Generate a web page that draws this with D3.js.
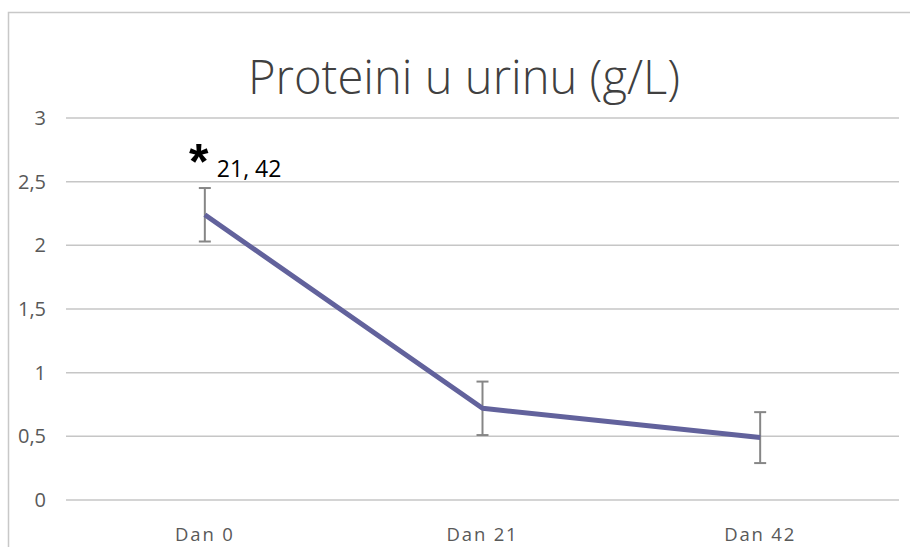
<!DOCTYPE html>
<html>
<head>
<meta charset="utf-8">
<script src="https://cdn.jsdelivr.net/npm/d3@7"></script>
<style>
  body { margin: 0; background: #fff; }
  svg { display: block; }
</style>
</head>
<body>
<div id="chart"></div>
<script>
// data
var categories = ["Dan 0", "Dan 21", "Dan 42"];
var means = [2.24, 0.72, 0.49];
var errors = [0.21, 0.21, 0.2];
var yTicks = [0, 0.5, 1, 1.5, 2, 2.5, 3];
var title = "Proteini u urinu (g/L)";
var note = ["*", "21, 42"];

var width = 910, height = 547;
var margin = {top: 118, right: 11, bottom: 47, left: 66};

var svg = d3.select("#chart").append("svg")
    .attr("width", width)
    .attr("height", height);

// chart border (runs off the right and bottom edge)
svg.append("rect")
    .attr("x", 8.5).attr("y", 12.5)
    .attr("width", 920).attr("height", 560)
    .attr("fill", "none")
    .attr("stroke", "#c8c8c8")
    .attr("stroke-width", 1.5);

var x = d3.scaleBand()
    .domain(categories)
    .range([margin.left, width - margin.right]);

var y = d3.scaleLinear()
    .domain([0, 3])
    .range([height - margin.bottom, margin.top]);

// gridlines
svg.append("g").attr("class", "grid")
  .selectAll("line").data(yTicks).enter()
  .append("line")
    .attr("x1", margin.left).attr("x2", width - margin.right)
    .attr("y1", function(d){ return y(d); })
    .attr("y2", function(d){ return y(d); })
    .attr("stroke", "#c6c6c6")
    .attr("stroke-width", 1.5);

// y axis labels
var yAxis = svg.append("g")
    .attr("transform", "translate(" + (margin.left - 20) + ",0)")
    .call(d3.axisLeft(y).tickValues(yTicks).tickSize(0).tickPadding(0)
        .tickFormat(function(d){ return String(d).replace(".", ","); }));
yAxis.select(".domain").remove();
yAxis.selectAll("text")
    .attr("fill", "#595959")
    .style("font-family", "'Open Sans', sans-serif")
    .style("font-size", "20px");

// x axis labels
var xAxis = svg.append("g")
    .attr("transform", "translate(0," + (height - margin.bottom) + ")")
    .call(d3.axisBottom(x).tickSize(0).tickPadding(28));
xAxis.select(".domain").remove();
xAxis.selectAll("text")
    .attr("fill", "#595959")
    .style("font-family", "'Open Sans', sans-serif")
    .style("font-size", "18.5px")
    .style("letter-spacing", "1.8px");

var cx = function(d, i){ return x(categories[i]) + x.bandwidth() / 2; };

// error bars
var eb = svg.append("g").attr("class", "errors")
  .selectAll("g").data(means).enter().append("g");
eb.append("line")
    .attr("x1", cx).attr("x2", cx)
    .attr("y1", function(d, i){ return y(d + errors[i]); })
    .attr("y2", function(d, i){ return y(d - errors[i]); });
eb.append("line")
    .attr("x1", function(d, i){ return cx(d, i) - 6; })
    .attr("x2", function(d, i){ return cx(d, i) + 6; })
    .attr("y1", function(d, i){ return y(d + errors[i]); })
    .attr("y2", function(d, i){ return y(d + errors[i]); });
eb.append("line")
    .attr("x1", function(d, i){ return cx(d, i) - 6; })
    .attr("x2", function(d, i){ return cx(d, i) + 6; })
    .attr("y1", function(d, i){ return y(d - errors[i]); })
    .attr("y2", function(d, i){ return y(d - errors[i]); });
eb.selectAll("line")
    .attr("stroke", "#868686")
    .attr("stroke-width", 2);

// the series line
var line = d3.line()
    .x(function(d, i){ return cx(d, i); })
    .y(function(d){ return y(d); });

svg.append("path")
    .datum(means)
    .attr("d", line)
    .attr("fill", "none")
    .attr("stroke", "#62629c")
    .attr("stroke-width", 5)
    .attr("stroke-linejoin", "round");

// significance note above Dan 0
var nx = x(categories[0]) + x.bandwidth() / 2;
var ny = y(means[0] + errors[0]);
svg.append("text")
    .attr("x", nx - 6).attr("y", ny - 9)
    .attr("text-anchor", "middle")
    .style("font-family", "'Liberation Sans', sans-serif")
    .style("font-weight", "bold")
    .style("font-size", "50px")
    .text(note[0]);
svg.append("text")
    .attr("x", nx + 12).attr("y", ny - 11)
    .style("font-family", "'Open Sans', sans-serif")
    .style("font-size", "23px")
    .attr("fill", "#000")
    .text(note[1]);

// title
var t = svg.append("text")
    .attr("x", 464).attr("y", 94)
    .attr("text-anchor", "middle")
    .attr("fill", "#404040")
    .style("font-family", "'Open Sans', sans-serif")
    .style("font-weight", 300)
    .style("font-size", "40px")
    .text(title);
// fit to the reference title width
var len = t.node().getComputedTextLength();
t.style("font-size", (40 * 432 / len) + "px");
</script>
</body>
</html>
